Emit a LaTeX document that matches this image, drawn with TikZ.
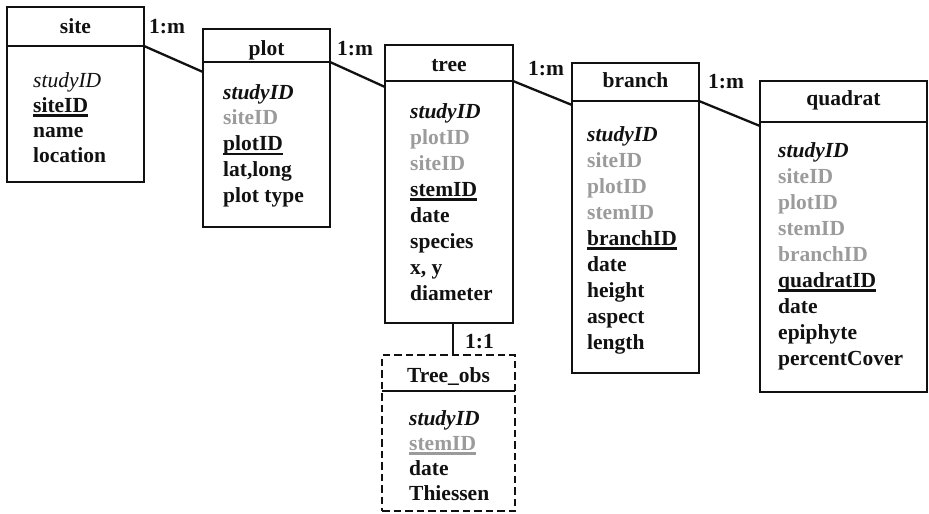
\documentclass[tikz,border=0pt]{standalone}
\usepackage{fontspec}
\setmainfont{Liberation Serif}
\definecolor{fkgray}{HTML}{9B9B9B}
\definecolor{ink}{HTML}{111111}
\newsavebox\keybox
% primary key: text with a heavy rule under it, in the current colour
\newcommand\ukey[1]{\leavevmode\sbox\keybox{#1}\rlap{\rule[-4.8pt]{\wd\keybox}{2.8pt}}\usebox\keybox}
\newcommand\fk[1]{\textcolor{fkgray}{#1}}
% one column of field names, one node per line
\newcommand\fieldlist[5]{%
  \foreach \t [count=\i from 0] in {#5} {\node[fld] (#1-f\i) at (#2,{#3+#4*\i}) {\t};}}
\begin{document}
\begin{tikzpicture}[x=1pt,y=-1pt,
  every node/.style={font=\fontsize{21.5}{25}\selectfont\bfseries, text=ink},
  tbl/.style={draw=ink, line width=2.5pt, rectangle, inner sep=0pt, outer sep=0pt, anchor=north west},
  dtbl/.style={tbl, dash pattern=on 7.5pt off 4pt},
  ttl/.style={anchor=base, inner sep=0pt},
  fld/.style={anchor=base west, inner sep=0pt},
  card/.style={anchor=base west, inner sep=0pt},
  rule/.style={draw=ink, line width=2.5pt},
  link/.style={draw=ink, line width=2.3pt}]
\useasboundingbox (0,0) rectangle (929,514);

% site
\node[tbl, minimum width=137pt, minimum height=175pt] (site) at (7,7) {};
\node[ttl] (site-t) at (75.5,33) {site};
\draw[rule] (site.west |- 0,46) -- (site.east |- 0,46);
\fieldlist{site}{33}{87}{25.3}{{\mdseries\itshape studyID},{\ukey{siteID}},name,location}

% plot
\node[tbl, minimum width=127pt, minimum height=198pt] (plot) at (203,29) {};
\node[ttl] (plot-t) at (266.5,55) {plot};
\draw[rule] (plot.west |- 0,62) -- (plot.east |- 0,62);
\fieldlist{plot}{223}{99}{25.8}{{\itshape studyID},{\fk{siteID}},{\ukey{plotID}},{lat,long},plot type}

% tree
\node[tbl, minimum width=128pt, minimum height=278pt] (tree) at (385,45) {};
\node[ttl] (tree-t) at (449,71) {tree};
\draw[rule] (tree.west |- 0,81) -- (tree.east |- 0,81);
\fieldlist{tree}{410}{118}{26}{{\itshape studyID},{\fk{plotID}},{\fk{siteID}},{\ukey{stemID}},date,species,{x, y},diameter}

% branch
\node[tbl, minimum width=127pt, minimum height=310pt] (branch) at (572,63) {};
\node[ttl] (branch-t) at (635.5,87) {branch};
\draw[rule] (branch.west |- 0,101) -- (branch.east |- 0,101);
\fieldlist{branch}{587}{141}{26}{{\itshape studyID},{\fk{siteID}},{\fk{plotID}},{\fk{stemID}},{\ukey{branchID}},date,height,aspect,length}

% quadrat
\node[tbl, minimum width=167pt, minimum height=311pt] (quadrat) at (760,81) {};
\node[ttl] (quadrat-t) at (843.5,105) {quadrat};
\draw[rule] (quadrat.west |- 0,122) -- (quadrat.east |- 0,122);
\fieldlist{quadrat}{778}{157}{26}{{\itshape studyID},{\fk{siteID}},{\fk{plotID}},{\fk{stemID}},{\fk{branchID}},{\ukey{quadratID}},date,epiphyte,percentCover}

% Tree_obs (dashed border, solid header rule)
\node[dtbl, minimum width=133pt, minimum height=156pt] (obs) at (382,355) {};
\node[ttl] (obs-t) at (448.5,382) {Tree\_obs};
\draw[rule] (obs.west |- 0,391) -- (obs.east |- 0,391);
\fieldlist{obs}{409}{425}{25}{{\itshape studyID},{\color{fkgray}\ukey{stemID}},date,Thiessen}

% relationships
\draw[link] (site.east |- 0,46) -- (plot.west |- 0,72);
\draw[link] (plot.east |- 0,62) -- (tree.west |- 0,87);
\draw[link] (tree.east |- 0,81) -- (branch.west |- 0,105);
\draw[link] (branch.east |- 0,101) -- (quadrat.west |- 0,126);
\draw[link] (tree.south -| 453,0) -- (obs.north -| 453,0);

\node[card] (c1) at (149,33) {1:m};
\node[card] (c2) at (337,55) {1:m};
\node[card] (c3) at (528,75) {1:m};
\node[card] (c4) at (708,88) {1:m};
\node[card] (c5) at (465,348) {1:1};
\end{tikzpicture}
\end{document}
